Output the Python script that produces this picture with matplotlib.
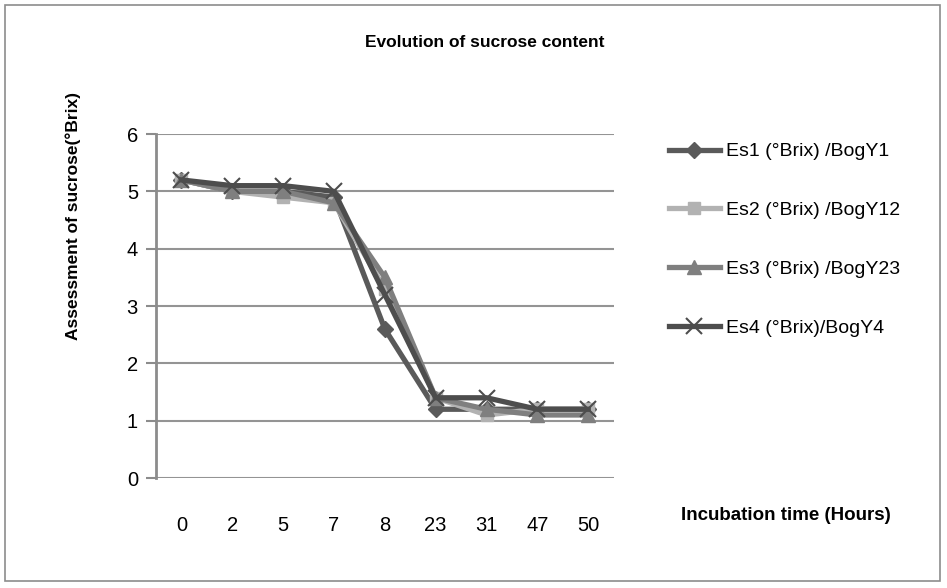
import matplotlib.pyplot as plt
from matplotlib.patches import Rectangle

hours = ["0", "2", "5", "7", "8", "23", "31", "47", "50"]
es1 = [5.2, 5.0, 5.0, 4.9, 2.6, 1.2, 1.2, 1.2, 1.2]
es2 = [5.2, 5.0, 4.9, 4.8, 3.3, 1.4, 1.1, 1.2, 1.2]
es3 = [5.2, 5.0, 5.0, 4.8, 3.5, 1.4, 1.2, 1.1, 1.1]
es4 = [5.2, 5.1, 5.1, 5.0, 3.2, 1.4, 1.4, 1.2, 1.2]
labels = ["Es1 (°Brix) /BogY1", "Es2 (°Brix) /BogY12",
          "Es3 (°Brix) /BogY23", "Es4 (°Brix)/BogY4"]

plt.rcParams["font.family"] = ["Liberation Sans", "DejaVu Sans"]

fig = plt.figure(figsize=(9.47, 5.88), dpi=100)
fig.patches.append(Rectangle((0.005, 0.012), 0.988, 0.98, transform=fig.transFigure,
                             fill=False, edgecolor="#8c8c8c", lw=1.2))
ax = fig.add_axes([0.1647, 0.187, 0.4833, 0.585])

x = list(range(len(hours)))
styles = [
    dict(color="#5a5a5a", marker="D", ms=8),
    dict(color="#b2b2b2", marker="s", ms=9),
    dict(color="#7f7f7f", marker="^", ms=10),
    dict(color="#4d4d4d", marker="x", ms=11, mew=1.5),
]
for ys, lab, st in zip([es1, es2, es3, es4], labels, styles):
    ax.plot(x, ys, lw=3.8, label=lab, **st)

ax.set_xlim(-0.5, len(hours) - 0.5)
ax.set_ylim(0, 6)
ax.set_yticks(range(7))
ax.set_xticks(x)
ax.set_xticklabels(hours)
ax.grid(axis="y", color="#949494", lw=1.5)
ax.set_axisbelow(True)
for s in ["top", "right", "bottom"]:
    ax.spines[s].set_visible(False)
ax.spines["left"].set_color("#8c8c8c")
ax.spines["left"].set_linewidth(2)
ax.tick_params(axis="y", length=7, width=1.5, color="#8c8c8c", labelsize=14.5, pad=6)
ax.tick_params(axis="x", length=0, labelsize=14.5, pad=27)

fig.text(0.512, 0.928, "Evolution of sucrose content", ha="center", va="center",
         fontsize=12.5, fontweight="bold")
fig.text(0.077, 0.632, "Assessment of sucrose(°Brix)", ha="center", va="center",
         rotation=90, fontsize=12.5, fontweight="bold")
fig.text(0.83, 0.124, "Incubation time (Hours)", ha="center", va="center",
         fontsize=13.5, fontweight="bold")

ax.legend(loc="upper left", bbox_to_anchor=(0.688, 0.787), bbox_transform=fig.transFigure,
          frameon=False, fontsize=14, handlelength=2.6, labelspacing=2.12,
          handletextpad=0.35)

fig.savefig("out.png", dpi=100)
